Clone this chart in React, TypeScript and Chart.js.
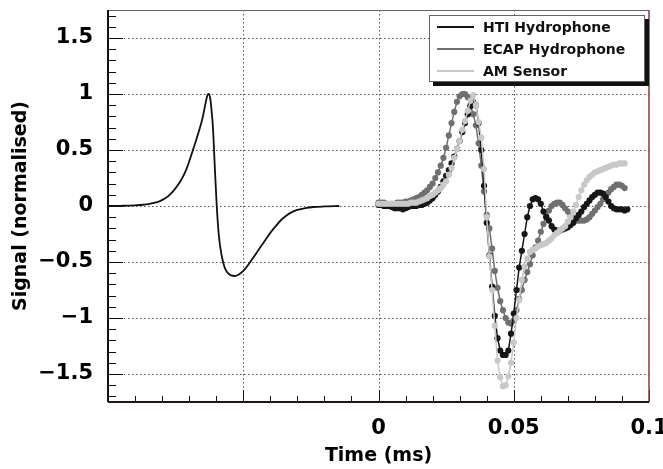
import React, { useEffect, useRef } from 'react';
import { Chart, registerables } from 'chart.js';

Chart.register(...registerables);

// ---- axis ranges / ticks ----
const X_MIN = -0.1;
const X_MAX = 0.1;
const Y_MIN = -1.75;
const Y_MAX = 1.75;
const xMajorTicks = [-0.1, -0.05, 0, 0.05, 0.1];
const xTickLabels = ['', '', '0', '0.05', '0.1'];
const yMajorTicks = [-1.5, -1, -0.5, 0, 0.5, 1, 1.5];
const yTickLabels = ['\u22121.5', '\u22121', '\u22120.5', '0', '0.5', '1', '1.5'];
const xTitle = 'Time (ms)';
const yTitle = 'Signal (normalised)';

// ---- simulated waveform (left, no markers) ----
const simTime = [
  -0.100, -0.095, -0.090, -0.087, -0.085, -0.083, -0.081, -0.079, -0.077, -0.075,
  -0.073, -0.071, -0.069, -0.067, -0.065, -0.064, -0.0633, -0.0628, -0.0622, -0.0617,
  -0.0612, -0.0605, -0.0598, -0.059, -0.058, -0.057, -0.056, -0.0545, -0.053, -0.0515,
  -0.050, -0.048, -0.046, -0.044, -0.042, -0.040, -0.038, -0.036, -0.034, -0.032,
  -0.030, -0.027, -0.024, -0.020, -0.0145,
];
const simSignal = [
  0.000, 0.002, 0.006, 0.011, 0.017, 0.027, 0.042, 0.066, 0.104, 0.160,
  0.230, 0.330, 0.470, 0.620, 0.790, 0.910, 0.985, 1.000, 0.960, 0.850,
  0.700, 0.340, 0.000, -0.270, -0.440, -0.540, -0.590, -0.620, -0.625, -0.610,
  -0.580, -0.520, -0.450, -0.380, -0.310, -0.240, -0.180, -0.125, -0.085, -0.055,
  -0.035, -0.018, -0.009, -0.004, 0.000,
];

// ---- measured series (sampled every 1 us) ----
const sampleTime = [
  0.000, 0.001, 0.002, 0.003, 0.004, 0.005, 0.006, 0.007, 0.008, 0.009,
  0.010, 0.011, 0.012, 0.013, 0.014, 0.015, 0.016, 0.017, 0.018, 0.019,
  0.020, 0.021, 0.022, 0.023, 0.024, 0.025, 0.026, 0.027, 0.028, 0.029,
  0.030, 0.031, 0.032, 0.033, 0.034, 0.035, 0.036, 0.037, 0.038, 0.039,
  0.040, 0.041, 0.042, 0.043, 0.044, 0.045, 0.046, 0.047, 0.048, 0.049,
  0.050, 0.051, 0.052, 0.053, 0.054, 0.055, 0.056, 0.057, 0.058, 0.059,
  0.060, 0.061, 0.062, 0.063, 0.064, 0.065, 0.066, 0.067, 0.068, 0.069,
  0.070, 0.071, 0.072, 0.073, 0.074, 0.075, 0.076, 0.077, 0.078, 0.079,
  0.080, 0.081, 0.082, 0.083, 0.084, 0.085, 0.086, 0.087, 0.088, 0.089,
  0.090, 0.091, 0.092,
];
const htiSignal = [
  0.01, 0.01, 0.00, 0.00, 0.00, -0.01, -0.02, -0.02, -0.02, -0.03,
  -0.02, -0.01, 0.00, 0.00, 0.00, 0.01, 0.01, 0.02, 0.03, 0.05,
  0.07, 0.10, 0.13, 0.17, 0.22, 0.27, 0.32, 0.38, 0.44, 0.51,
  0.58, 0.66, 0.74, 0.82, 0.89, 0.93, 0.90, 0.74, 0.50, 0.18,
  -0.15, -0.44, -0.72, -0.98, -1.18, -1.29, -1.33, -1.33, -1.29, -1.14,
  -0.96, -0.75, -0.55, -0.40, -0.25, -0.10, 0.00, 0.06, 0.07, 0.06,
  0.02, -0.05, -0.10, -0.13, -0.18, -0.21, -0.22, -0.22, -0.21, -0.20,
  -0.19, -0.17, -0.15, -0.11, -0.08, -0.05, -0.01, 0.02, 0.05, 0.08,
  0.10, 0.12, 0.12, 0.11, 0.08, 0.04, 0.00, -0.02, -0.03, -0.03,
  -0.03, -0.04, -0.03,
];
const ecapSignal = [
  0.03, 0.03, 0.03, 0.02, 0.02, 0.02, 0.02, 0.03, 0.03, 0.03,
  0.04, 0.04, 0.05, 0.06, 0.07, 0.08, 0.10, 0.12, 0.14, 0.17,
  0.20, 0.25, 0.30, 0.36, 0.43, 0.52, 0.63, 0.74, 0.84, 0.93,
  0.98, 1.00, 1.00, 0.97, 0.90, 0.82, 0.72, 0.56, 0.36, 0.13,
  -0.08, -0.20, -0.38, -0.58, -0.73, -0.85, -0.93, -1.00, -1.04, -1.05,
  -1.02, -0.93, -0.83, -0.75, -0.66, -0.59, -0.52, -0.44, -0.37, -0.31,
  -0.23, -0.16, -0.09, -0.04, 0.00, 0.02, 0.03, 0.03, 0.01, -0.02,
  -0.05, -0.09, -0.11, -0.13, -0.13, -0.13, -0.13, -0.12, -0.10, -0.07,
  -0.04, -0.01, 0.02, 0.06, 0.09, 0.12, 0.15, 0.17, 0.19, 0.19,
  0.18, 0.16,
];
const amSignal = [
  0.02, 0.02, 0.02, 0.02, 0.02, 0.02, 0.02, 0.02, 0.02, 0.02,
  0.02, 0.02, 0.03, 0.03, 0.03, 0.04, 0.05, 0.06, 0.07, 0.09,
  0.10, 0.12, 0.14, 0.16, 0.19, 0.22, 0.28, 0.34, 0.43, 0.51,
  0.58, 0.68, 0.76, 0.85, 0.94, 0.99, 0.90, 0.75, 0.61, 0.33,
  -0.10, -0.45, -0.75, -1.07, -1.38, -1.53, -1.61, -1.60, -1.52, -1.40,
  -1.22, -1.00, -0.84, -0.66, -0.54, -0.47, -0.41, -0.39, -0.38, -0.36,
  -0.35, -0.34, -0.33, -0.31, -0.29, -0.26, -0.24, -0.22, -0.20, -0.18,
  -0.14, -0.10, -0.05, 0.01, 0.08, 0.14, 0.19, 0.23, 0.26, 0.28,
  0.30, 0.31, 0.32, 0.33, 0.34, 0.35, 0.36, 0.37, 0.37, 0.38,
  0.38, 0.38,
];

const seriesNames = ['HTI Hydrophone', 'ECAP Hydrophone', 'AM Sensor'];
const seriesColors = ['#161616', '#707070', '#c8c8c8'];

const FONT = '"DejaVu Sans", "Liberation Sans", sans-serif';

const toXY = (xs: number[], ys: number[]) => ys.map((y, i) => ({ x: xs[i], y }));

const zeroPadding = (s: any) => {
  s.paddingLeft = 0;
  s.paddingRight = 0;
  s.paddingTop = 0;
  s.paddingBottom = 0;
};

const framePlugin = {
  id: 'rootFrame',
  beforeDatasetsDraw(chart: any) {
    const { ctx, chartArea: a, scales } = chart;
    const xs = scales.x;
    const ys = scales.y;
    ctx.save();
    ctx.strokeStyle = '#555';
    ctx.lineWidth = 1;
    ctx.setLineDash([1.5, 2.5]);
    for (const v of xMajorTicks) {
      if (v <= X_MIN || v >= X_MAX) continue;
      const px = Math.round(xs.getPixelForValue(v)) + 0.5;
      ctx.beginPath();
      ctx.moveTo(px, a.top);
      ctx.lineTo(px, a.bottom);
      ctx.stroke();
    }
    for (const v of yMajorTicks) {
      const py = Math.round(ys.getPixelForValue(v)) + 0.5;
      ctx.beginPath();
      ctx.moveTo(a.left, py);
      ctx.lineTo(a.right, py);
      ctx.stroke();
    }
    ctx.restore();
  },
  afterDatasetsDraw(chart: any) {
    const { ctx, chartArea: a, scales } = chart;
    const xs = scales.x;
    const ys = scales.y;
    ctx.save();
    ctx.setLineDash([]);
    // tick marks
    ctx.strokeStyle = '#111';
    ctx.lineWidth = 1;
    for (let i = -10; i <= 10; i++) {
      const px = Math.round(xs.getPixelForValue(i / 100)) + 0.5;
      const len = i % 5 === 0 ? 12 : 6;
      ctx.beginPath();
      ctx.moveTo(px, a.bottom);
      ctx.lineTo(px, a.bottom - len);
      ctx.stroke();
    }
    for (let i = -17; i <= 17; i++) {
      const py = Math.round(ys.getPixelForValue(i / 10)) + 0.5;
      const len = i % 5 === 0 ? 15 : 8;
      ctx.beginPath();
      ctx.moveTo(a.left, py);
      ctx.lineTo(a.left + len, py);
      ctx.stroke();
    }
    // frame
    ctx.strokeStyle = '#666';
    ctx.lineWidth = 1;
    ctx.beginPath();
    ctx.moveTo(a.left, a.top + 0.5);
    ctx.lineTo(a.right, a.top + 0.5);
    ctx.stroke();
    ctx.strokeStyle = '#8f3a2a';
    ctx.lineWidth = 1.5;
    ctx.beginPath();
    ctx.moveTo(a.right, a.top);
    ctx.lineTo(a.right, a.bottom);
    ctx.stroke();
    ctx.strokeStyle = '#2a1212';
    ctx.lineWidth = 2;
    ctx.beginPath();
    ctx.moveTo(a.left, a.bottom);
    ctx.lineTo(a.right, a.bottom);
    ctx.stroke();
    ctx.strokeStyle = '#111';
    ctx.beginPath();
    ctx.moveTo(a.left, a.top);
    ctx.lineTo(a.left, a.bottom);
    ctx.stroke();

    // legend box with shadow
    const lw = 216;
    const lh = 67;
    const lx = a.right - 220;
    const ly = a.top + 5;
    ctx.fillStyle = '#111';
    ctx.fillRect(lx + 4, ly + 4, lw, lh);
    ctx.fillStyle = '#fff';
    ctx.fillRect(lx, ly, lw, lh);
    ctx.strokeStyle = '#666';
    ctx.lineWidth = 1;
    ctx.strokeRect(lx + 0.5, ly + 0.5, lw - 1, lh - 1);
    ctx.font = 'bold 14px ' + FONT;
    ctx.textBaseline = 'middle';
    ctx.textAlign = 'left';
    seriesNames.forEach((name, i) => {
      const cy = ly + 12 + i * 22;
      ctx.strokeStyle = seriesColors[i];
      ctx.lineWidth = 2;
      ctx.beginPath();
      ctx.moveTo(lx + 8, cy);
      ctx.lineTo(lx + 45, cy);
      ctx.stroke();
      ctx.fillStyle = '#111';
      ctx.fillText(name, lx + 54, cy + 1);
    });
    ctx.restore();
  },
};

export default function App() {
  const ref = useRef<HTMLCanvasElement | null>(null);

  useEffect(() => {
    if (!ref.current) return;
    const measured = (i: number, ys: number[], order: number) => ({
      label: seriesNames[i],
      data: toXY(sampleTime, ys),
      borderColor: seriesColors[i],
      backgroundColor: seriesColors[i],
      borderWidth: 1.5,
      pointRadius: 3.1,
      pointBorderWidth: 0,
      pointBackgroundColor: seriesColors[i],
      tension: 0,
      order,
    });
    const chart = new Chart(ref.current, {
      type: 'line',
      data: {
        datasets: [
          {
            label: 'Simulation',
            data: toXY(simTime, simSignal),
            borderColor: '#111',
            borderWidth: 1.8,
            pointRadius: 0,
            cubicInterpolationMode: 'monotone',
            order: 0,
          } as any,
          measured(0, htiSignal, 2),
          measured(1, ecapSignal, 3),
          measured(2, amSignal, 1),
        ],
      },
      options: {
        responsive: false,
        animation: false,
        devicePixelRatio: 1,
        layout: { padding: { left: 0, top: 10, right: 14, bottom: 0 }, autoPadding: false } as any,
        plugins: { legend: { display: false }, tooltip: { enabled: false } },
        scales: {
          x: {
            type: 'linear',
            min: X_MIN,
            max: X_MAX,
            grid: { display: false, drawTicks: false },
            border: { display: false },
            afterBuildTicks: (s: any) => {
              s.ticks = xMajorTicks.map((v) => ({ value: v }));
            },
            afterFit: (s: any) => {
              s.height = 67;
              zeroPadding(s);
            },
            ticks: {
              autoSkip: false,
              maxRotation: 0,
              padding: 14,
              color: '#000',
              font: { family: FONT, size: 21, weight: 'bold' },
              callback: (_v: any, i: number) => xTickLabels[i],
            },
            title: {
              display: true,
              text: xTitle,
              color: '#000',
              font: { family: FONT, size: 19, weight: 'bold' },
              padding: { top: 0, bottom: 2 },
            },
          },
          y: {
            type: 'linear',
            min: Y_MIN,
            max: Y_MAX,
            grid: { display: false, drawTicks: false },
            border: { display: false },
            afterBuildTicks: (s: any) => {
              s.ticks = yMajorTicks.map((v) => ({ value: v }));
            },
            afterFit: (s: any) => {
              s.width = 108;
              zeroPadding(s);
            },
            ticks: {
              autoSkip: false,
              padding: 15,
              color: '#000',
              font: { family: FONT, size: 21, weight: 'bold' },
              callback: (_v: any, i: number) => yTickLabels[i],
            },
            title: {
              display: true,
              text: yTitle,
              color: '#000',
              font: { family: FONT, size: 19, weight: 'bold' },
              padding: { top: 10, bottom: 0 },
            },
          },
        } as any,
      },
      plugins: [framePlugin],
    });
    return () => chart.destroy();
  }, []);

  return (
    <div style={{ position: 'fixed', left: 0, top: 0, width: 663, height: 469, background: '#fff' }}>
      <canvas ref={ref} width={663} height={469} style={{ display: 'block' }} />
    </div>
  );
}
